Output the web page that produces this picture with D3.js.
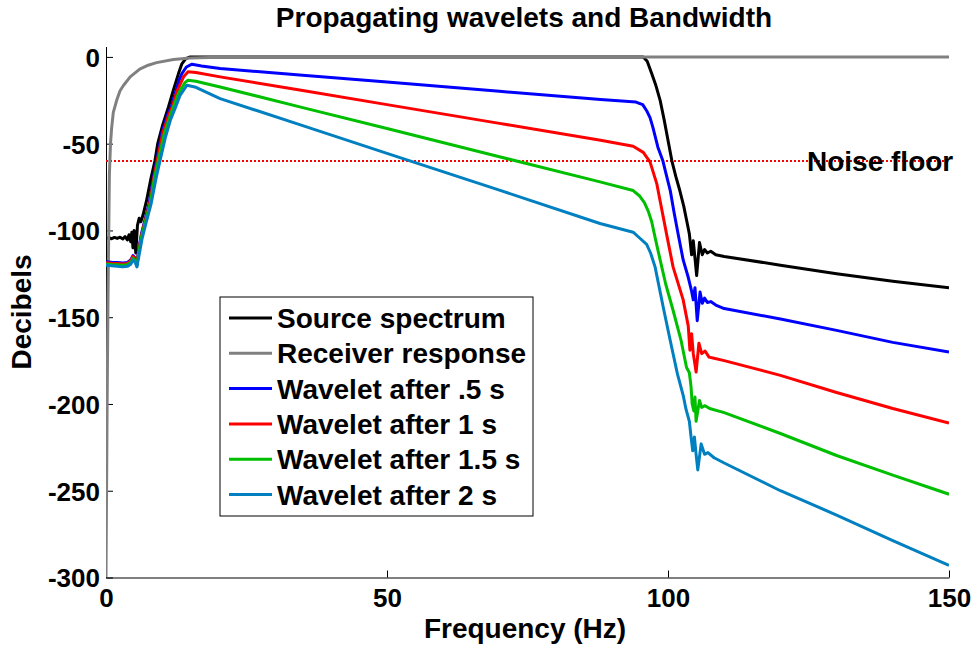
<!DOCTYPE html>
<html>
<head>
<meta charset="utf-8">
<script src="https://cdn.jsdelivr.net/npm/d3@7/dist/d3.min.js"></script>
<style>
  html, body { margin: 0; padding: 0; background: #fff; }
  svg { display: block; }
  text { font-family: "Liberation Sans", Arial, Helvetica, sans-serif; font-weight: bold; fill: #000; }
</style>
</head>
<body>
<svg id="chart" width="973" height="645"></svg>
<script>
// Spectra as [frequency (Hz), level (dB)] pairs
const sourceSpectrum = [
  [0,-104.5],[0.5,-104.2],[1,-104.8],[1.5,-104],[2,-104.6],[2.5,-103.9],[3,-104.9],[3.4,-103.5],
  [3.8,-105.5],[4.1,-102.5],[4.4,-106.5],[4.6,-101],[4.8,-110],[5.0,-100],[5.3,-113],[5.6,-97],
  [5.9,-93],[6.2,-95],[6.6,-91],[7.2,-83],[8.0,-70],[8.7,-60],[9.2,-50],[10.1,-39],[11.1,-29],
  [12.0,-19],[12.9,-9.6],[13.5,-4],[14.2,-1],[15,0],[95.6,0],[96.3,-2.5],[97.1,-9.5],[97.8,-16],
  [98.6,-25],[99.3,-36],[100,-48],[100.7,-60],[101.4,-69],[102.1,-77],[102.8,-86],[103.3,-94],
  [103.8,-102],[104.2,-114],[104.5,-106],[105.1,-126],[105.6,-107],[106.1,-114],[106.5,-111],
  [107.0,-113],[107.6,-112],[108.5,-114],[110,-115],[120,-120],[130,-125],[140,-129.3],[150,-133]
];
const receiverResponse = [
  [0,-300],[0.2,-200],[0.35,-140],[0.45,-112],[0.6,-68],[0.8,-50],[1.0,-41],[1.3,-32],[1.9,-25],
  [2.5,-19.5],[3.1,-16.5],[4.3,-11.5],[6.0,-7],[7.5,-4.8],[9,-3.3],[12,-1.5],[15,-0.6],[20,-0.2],
  [25,0],[150,0]
];
const wavelet05 = [
  [0,-118],[1,-118.3],[2,-118.5],[3,-118.8],[3.8,-118.5],[4.4,-117],[4.8,-114.5],[5.2,-116],
  [5.5,-119.5],[5.8,-111],[6.3,-102],[7.0,-93],[7.7,-84],[8.4,-70],[9.0,-60],[10.0,-43],[11.0,-33],
  [11.6,-28.8],[12.4,-20],[13.0,-13.5],[13.5,-9.6],[14.3,-5.8],[15.3,-4.2],[17,-5.2],[20.3,-6.7],
  [35,-10.6],[50,-14.5],[70,-19.8],[88,-24.6],[94.3,-26],[95.5,-27.5],[96.2,-31],[96.8,-35],
  [97.3,-40.5],[98.2,-52],[99.1,-60],[99.7,-68],[100.4,-77],[101.1,-90],[101.8,-102],[102.7,-117],
  [103.6,-127],[104.2,-135],[104.5,-140],[104.8,-133],[105.2,-152],[105.7,-135.5],[106.1,-142],
  [106.5,-139],[107.0,-141.5],[107.6,-141],[108.5,-143],[110,-145],[120,-151],[130,-157.6],
  [140,-164.5],[150,-170]
];
const wavelet1 = [
  [0,-118.6],[1,-118.9],[2,-119.1],[3,-119.3],[3.8,-119],[4.4,-117.5],[4.8,-115],[5.2,-116.5],
  [5.5,-120],[5.8,-112],[6.3,-103],[7.0,-94],[7.8,-84],[8.5,-70],[9.1,-60],[10.1,-44],[11.1,-34],
  [11.8,-28.8],[12.6,-20],[13.8,-11.5],[14.6,-8.6],[16,-9],[20.3,-11.5],[35,-19.4],[50,-27.5],
  [70,-38.3],[88,-48],[93.8,-51.5],[95.6,-55],[96.8,-60.5],[98.0,-73],[98.6,-83],[99.8,-103],
  [100.9,-121],[102.7,-140],[103.6,-155],[103.9,-169],[104.2,-159.5],[104.5,-171],[105.0,-181.6],
  [105.5,-165],[106.0,-171],[106.6,-169.5],[107.3,-173],[108,-173.5],[110,-175],[120,-183.5],
  [130,-193.4],[140,-202.6],[150,-211]
];
const wavelet15 = [
  [0,-119.3],[1,-119.6],[2,-119.8],[3,-120],[3.8,-119.7],[4.4,-118.5],[4.8,-116],[5.2,-117.5],
  [5.5,-120.5],[5.8,-113],[6.3,-104],[7.0,-95],[7.9,-84],[8.6,-70],[9.3,-60],[10.3,-45],[11.3,-35],
  [12.0,-28.8],[12.9,-21],[14.0,-15],[14.6,-13.4],[16,-14],[20.3,-17.3],[35,-29.2],[50,-41.3],
  [70,-57.5],[87.9,-72],[93.8,-77],[94.9,-80],[95.8,-84],[96.5,-89],[97.1,-95],[97.7,-104],
  [98.6,-117],[99.6,-131],[100.9,-146],[102.3,-163],[103.3,-179],[103.8,-182],[104.1,-190],
  [104.3,-200],[104.6,-204],[104.8,-196],[105.0,-210],[105.6,-198],[106.0,-202],[106.6,-201],
  [107.4,-202.6],[110,-205],[120,-217],[130,-229.7],[140,-241],[150,-252]
];
const wavelet2 = [
  [0,-120],[1,-120.3],[2,-120.6],[3,-121],[3.8,-120.7],[4.4,-119.5],[4.8,-117],[5.2,-118.5],
  [5.5,-121],[5.9,-114],[6.4,-105],[7.1,-96],[8.0,-85],[8.9,-70],[9.6,-60],[10.6,-46],[11.5,-36],
  [12.4,-28.8],[13.2,-22],[14.4,-16.3],[16,-17.5],[20.3,-24],[35,-39.6],[50,-55.6],[70,-76.8],
  [87.9,-96],[93.8,-101],[95,-104.5],[96.2,-108],[96.9,-113],[97.7,-121],[99.2,-145],[100.5,-165],
  [101.7,-183],[102.7,-195],[103.2,-203],[103.8,-210],[104.1,-219],[104.4,-227],[104.7,-219],
  [105.0,-229],[105.3,-238],[105.9,-223],[106.5,-229],[107.1,-228],[108.2,-231],[110,-234],
  [120,-250],[130,-264],[140,-278.7],[150,-293]
];

const seriesNames = ["Source spectrum", "Receiver response", "Wavelet after .5 s",
                     "Wavelet after 1 s", "Wavelet after 1.5 s", "Wavelet after 2 s"];
const seriesColors = ["#000000", "#808080", "#0000ff", "#ff0000", "#00bf00", "#0080c0"];
const seriesData = [sourceSpectrum, receiverResponse, wavelet05, wavelet1, wavelet15, wavelet2];

const noiseFloor = -60;
const xTicks = [0, 50, 100, 150];
const yTicks = [0, -50, -100, -150, -200, -250, -300];

const svg = d3.select("#chart");
svg.append("rect").attr("width", 973).attr("height", 645).attr("fill", "#fff");

const margin = { left: 106, right: 24, top: 46.5, bottom: 67.5 };
const W = 973, H = 645;

const x = d3.scaleLinear().domain([0, 150]).range([margin.left, W - margin.right]);
const y = d3.scaleLinear().domain([-300, 6]).range([H - margin.bottom, margin.top]);

svg.append("defs").append("clipPath").attr("id", "plot-clip")
  .append("rect")
  .attr("x", margin.left).attr("y", margin.top)
  .attr("width", W - margin.left - margin.right)
  .attr("height", H - margin.top - margin.bottom);

// Axes with inward ticks
const xAxis = d3.axisBottom(x).tickValues(xTicks).tickFormat(d => String(d))
  .tickSizeInner(-7).tickSizeOuter(0).tickPadding(11);
const yAxis = d3.axisLeft(y).tickValues(yTicks).tickFormat(d => String(d))
  .tickSizeInner(-7).tickSizeOuter(0).tickPadding(6);

const gx = svg.append("g").attr("transform", `translate(0,${y(-300)})`).call(xAxis);
const gy = svg.append("g").attr("transform", `translate(${x(0)},0)`).call(yAxis);
[gx, gy].forEach(g => {
  g.selectAll("text").style("font-size", "26px").style("font-family", null);
  g.selectAll("path, line").attr("stroke", "#000").attr("stroke-width", 1);
});
gy.selectAll("text").attr("dy", "0.36em");

const plot = svg.append("g").attr("clip-path", "url(#plot-clip)");

// Noise floor reference
plot.append("line")
  .attr("x1", x(0)).attr("x2", x(150))
  .attr("y1", y(noiseFloor)).attr("y2", y(noiseFloor))
  .attr("stroke", "#ff0000").attr("stroke-width", 2)
  .attr("stroke-dasharray", "2,2");

const line = d3.line().x(d => x(d[0])).y(d => y(d[1]));

seriesData.forEach((data, i) => {
  plot.append("path")
    .datum(data)
    .attr("d", line)
    .attr("fill", "none")
    .attr("stroke", seriesColors[i])
    .attr("stroke-width", 3)
    .attr("stroke-linejoin", "round");
});

// Noise floor label
svg.append("text")
  .attr("x", 807).attr("y", y(noiseFloor) + 10)
  .style("font-size", "28px")
  .text("Noise floor");

// Title and axis labels
svg.append("text")
  .attr("x", 524).attr("y", 27)
  .attr("text-anchor", "middle")
  .style("font-size", "28px")
  .text("Propagating wavelets and Bandwidth");

svg.append("text")
  .attr("x", 525).attr("y", 638)
  .attr("text-anchor", "middle")
  .style("font-size", "28px")
  .text("Frequency (Hz)");

svg.append("text")
  .attr("transform", `translate(31,${(y(6) + y(-300)) / 2}) rotate(-90)`)
  .attr("text-anchor", "middle")
  .style("font-size", "28px")
  .text("Decibels");

// Legend
const legend = svg.append("g");
legend.append("rect")
  .attr("x", 220).attr("y", 297).attr("width", 313).attr("height", 219)
  .attr("fill", "#fff").attr("stroke", "#000").attr("stroke-width", 1);
seriesNames.forEach((name, i) => {
  const cy = 318 + i * 35.3;
  legend.append("line")
    .attr("x1", 229).attr("x2", 272).attr("y1", cy).attr("y2", cy)
    .attr("stroke", seriesColors[i]).attr("stroke-width", 3);
  legend.append("text")
    .attr("x", 277).attr("y", cy + 10)
    .style("font-size", "28px")
    .text(name);
});
</script>
</body>
</html>
